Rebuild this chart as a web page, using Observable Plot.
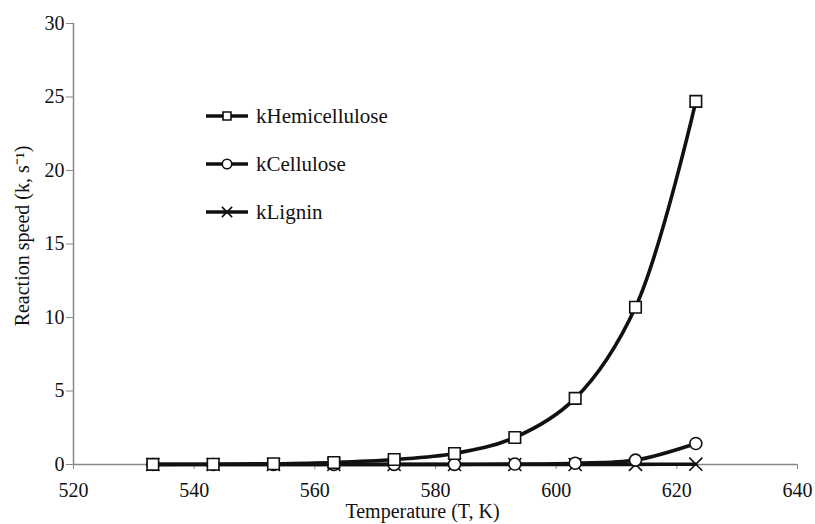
<!DOCTYPE html>
<html>
<head>
<meta charset="utf-8">
<script src="https://cdn.jsdelivr.net/npm/d3@7"></script>
<script src="https://cdn.jsdelivr.net/npm/@observablehq/plot@0.6"></script>
<style>
  html, body { margin: 0; padding: 0; background: #fff; }
  #wrap { position: relative; width: 815px; height: 524px; }
  #legend { position: absolute; left: 205px; top: 104px; font-family: "Liberation Serif", "Times New Roman", serif; font-size: 21px; color: #111; }
  .item { display: flex; align-items: center; height: 24px; margin-bottom: 24px; }
  .item svg { margin-right: 7px; }
</style>
</head>
<body>
<div id="wrap">
  <div id="chart"></div>
  <div id="legend"></div>
</div>
<script>
// Temperatures (K)
const temps = [533.15, 543.15, 553.15, 563.15, 573.15, 583.15, 593.15, 603.15, 613.15, 623.15];
// Series values (s^-1)
const kHemicellulose = [0.01, 0.02, 0.05, 0.14, 0.34, 0.75, 1.84, 4.5, 10.7, 24.7];
const kCellulose     = [0.0, 0.0, 0.0, 0.01, 0.01, 0.01, 0.03, 0.09, 0.3, 1.43];
const kLignin        = [0.0, 0.0, 0.0, 0.0, 0.0, 0.0, 0.0, 0.0, 0.01, 0.02];
const seriesNames = ["kHemicellulose", "kCellulose", "kLignin"];
const seriesSymbols = ["square", "circle", "times"];
const xTicks = [520, 540, 560, 580, 600, 620, 640];
const yTicks = [0, 5, 10, 15, 20, 25, 30];

const seriesValues = [kHemicellulose, kCellulose, kLignin];
const rows = [];
seriesNames.forEach((name, i) => {
  temps.forEach((t, j) => rows.push({series: name, T: t, k: seriesValues[i][j], sym: seriesSymbols[i]}));
});
const drawOrder = ["kLignin", "kCellulose", "kHemicellulose"];

const marks = [
  Plot.ruleY([0], {stroke: "#888", strokeWidth: 1.5}),
  Plot.ruleX([520], {stroke: "#888", strokeWidth: 1.5}),
  Plot.axisY(yTicks, {ticks: yTicks, tickSize: 7, tickPadding: 2, stroke: "#888", fontSize: 20, label: null, fill: "#111"}),
  Plot.axisX(xTicks, {ticks: xTicks, tickSize: 5, tickPadding: 13, stroke: "#888", fontSize: 20, label: null, fill: "#111"})
];
drawOrder.forEach((name) => {
  const d = rows.filter(r => r.series === name);
  const sym = seriesSymbols[seriesNames.indexOf(name)];
  marks.push(Plot.line(d, {x: "T", y: "k", stroke: "#111", strokeWidth: 3.6, curve: "catmull-rom"}));
  marks.push(Plot.dot(d, {x: "T", y: "k", symbol: sym, r: sym === "square" ? 6.5 : 6, stroke: "#111", strokeWidth: 1.6, fill: sym === "times" ? "none" : "white"}));
});
marks.push(Plot.text(["Temperature (T, K)"], {frameAnchor: "bottom", dy: 53, dx: -13, fontSize: 20, fill: "#111"}));
marks.push(Plot.text(["Reaction speed (k, s\u207B\u00B9)"], {frameAnchor: "left", textAnchor: "middle", dx: -51, dy: -8, rotate: -90, fontSize: 20, fill: "#111"}));

const chart = Plot.plot({
  width: 815,
  height: 524,
  marginLeft: 73,
  marginRight: 18,
  marginTop: 23,
  marginBottom: 60,
  style: {fontFamily: "'Liberation Serif', 'Times New Roman', serif", background: "white", overflow: "visible"},
  x: {domain: [520, 640]},
  y: {domain: [0, 30]},
  symbol: {domain: seriesSymbols, range: seriesSymbols},
  marks
});
document.getElementById("chart").appendChild(chart);

// Legend
const legend = d3.select("#legend");
seriesNames.forEach((name, i) => {
  const item = legend.append("div").attr("class", "item");
  const svg = item.append("svg").attr("width", 44).attr("height", 20);
  svg.append("line").attr("x1", 1).attr("x2", 43).attr("y1", 10).attr("y2", 10).attr("stroke", "#111").attr("stroke-width", 3.6);
  const s = seriesSymbols[i];
  svg.append("path").attr("transform", "translate(22,10)")
    .attr("d", d3.symbol(s === "square" ? d3.symbolSquare2 : s === "circle" ? d3.symbolCircle : d3.symbolTimes, s === "square" ? 80 : 70)())
    .attr("fill", s === "times" ? "none" : "white").attr("stroke", "#111").attr("stroke-width", 1.6);
  item.append("span").text(name);
});
</script>
</body>
</html>
